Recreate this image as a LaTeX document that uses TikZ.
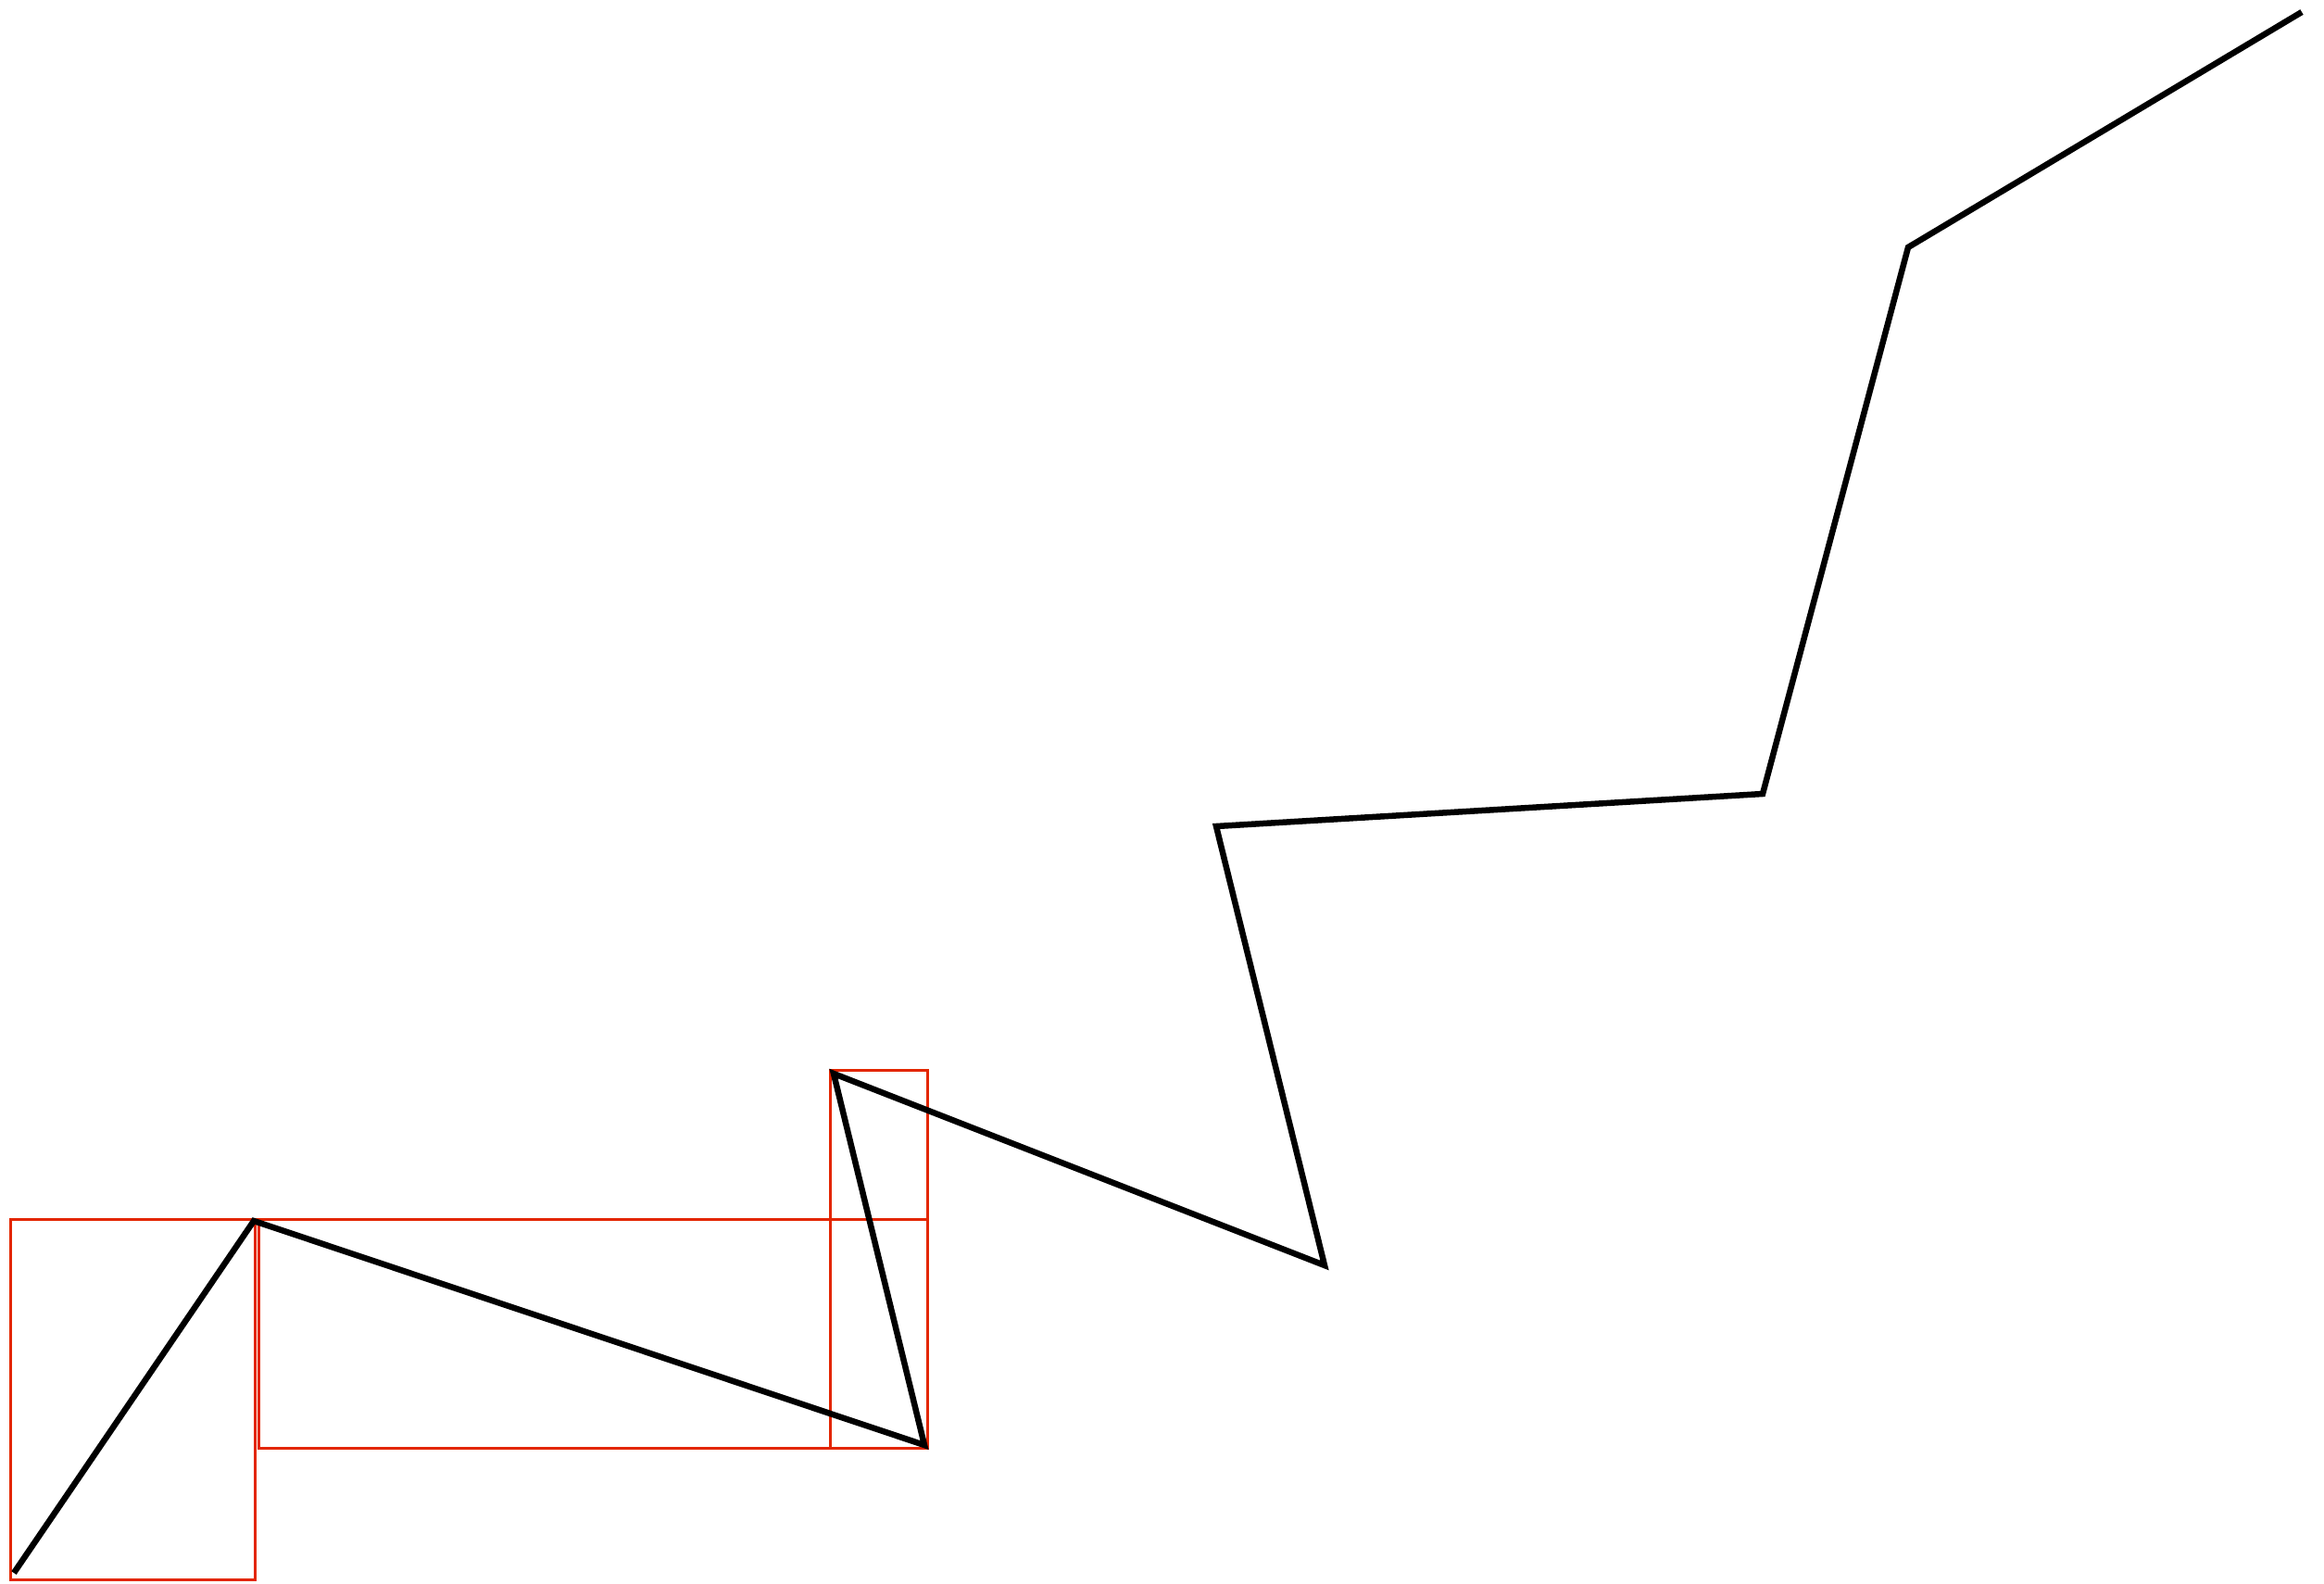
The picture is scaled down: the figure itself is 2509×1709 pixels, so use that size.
\documentclass[tikz,border=0pt]{standalone}
\usetikzlibrary{calc}
\definecolor{boxred}{RGB}{227,38,0}
\begin{document}
\begin{tikzpicture}[x=1pt,y=-1pt,
  pathline/.style={line width=6.5pt,black,line join=miter},
  bbox/.style={line width=3pt,boxred}]
\useasboundingbox (0,0) rectangle (2509,1709);
\coordinate (p0) at (15,1698);
\coordinate (p1) at (274,1318);
\coordinate (p2) at (998,1560);
\coordinate (p3) at (900,1159);
\coordinate (p4) at (1430,1366);
\coordinate (p5) at (1313,892);
\coordinate (p6) at (1903,857);
\coordinate (p7) at (2060,267);
\coordinate (p8) at (2485,13);
\coordinate (b1a) at (11,1316);
\coordinate (b1b) at (275,1705);
\coordinate (b2a) at (279,1316);
\coordinate (b2b) at (1001,1563);
\coordinate (b3a) at (896,1155);
\coordinate (b3b) at (1001,1563);
\draw[bbox] (b1a) rectangle (b1b);
\draw[bbox] (b2a) rectangle (b2b);
\draw[bbox] (b3a) rectangle (b3b);
\draw[bbox] (b1b |- b1a) -- (b2a);
\draw[pathline] (p0) -- (p1) -- (p2) -- (p3) -- (p4) -- (p5) -- (p6) -- (p7) -- (p8);
\end{tikzpicture}
\end{document}
